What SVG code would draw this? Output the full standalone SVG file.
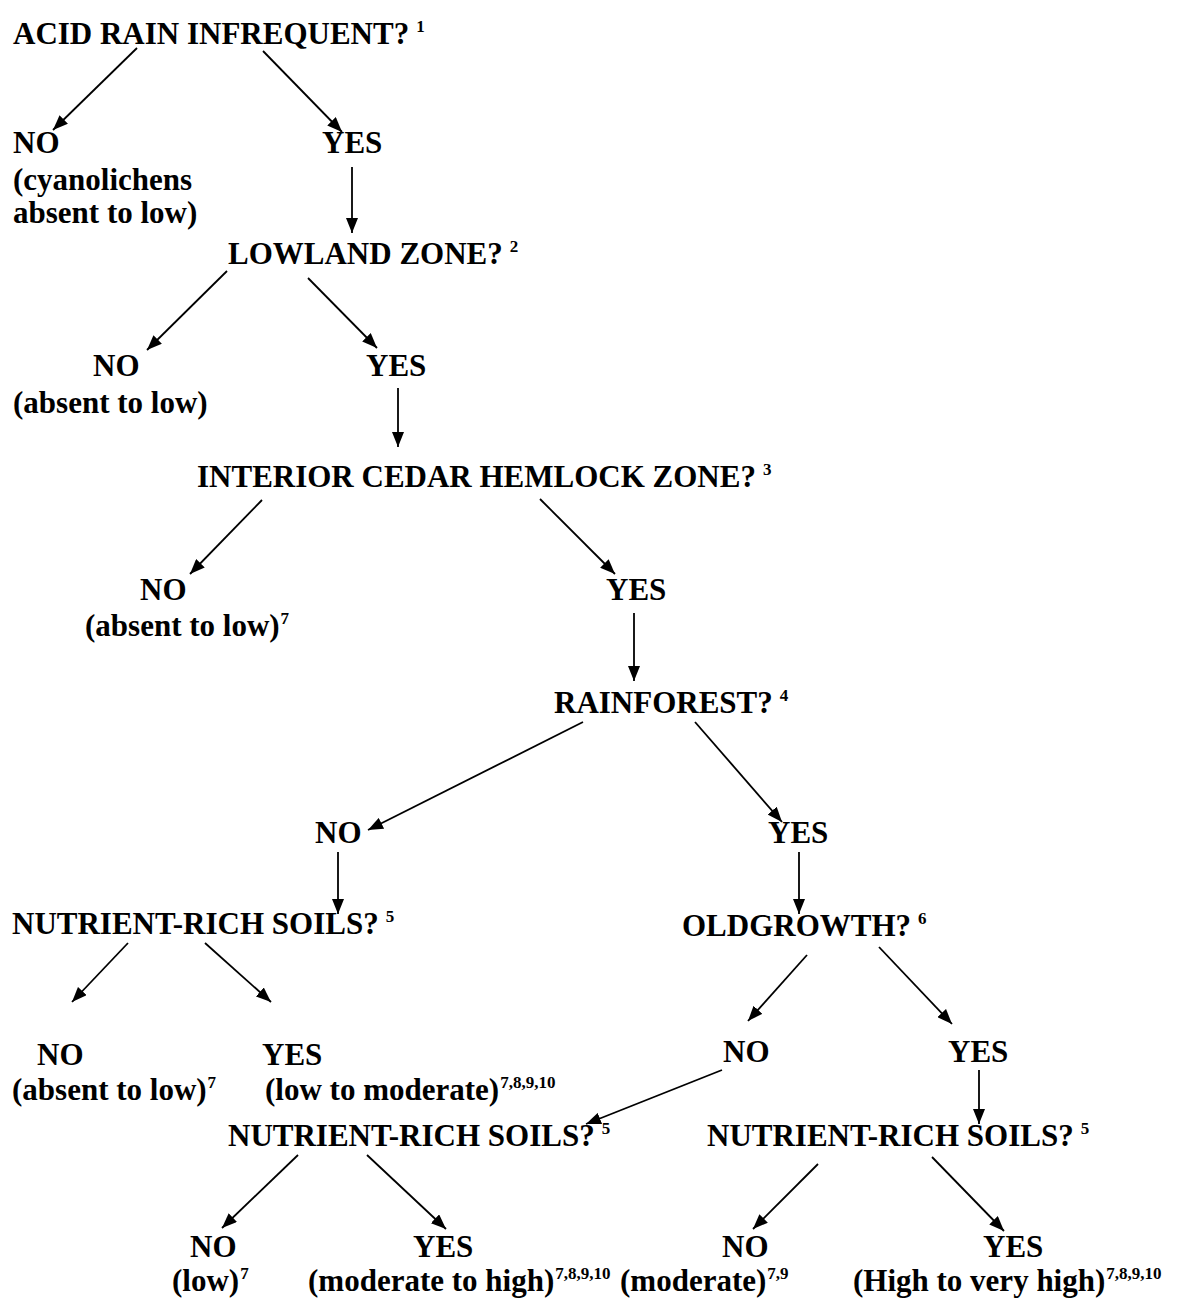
<svg xmlns="http://www.w3.org/2000/svg" width="1179" height="1301" viewBox="0 0 1179 1301">
<defs>
<marker id="ah" markerUnits="userSpaceOnUse" markerWidth="16" markerHeight="12" refX="15" refY="6" orient="auto">
<path d="M0,0 L15,6 L0,12 z" fill="#000"/>
</marker>
<style>
text{font-family:"Liberation Serif","Times New Roman",serif;font-weight:bold;font-size:31px;fill:#000}
.s{font-size:17px}
.c line{stroke:#000;stroke-width:1.8;marker-end:url(#ah)}
</style>
</defs>
<rect width="1179" height="1301" fill="#fff"/>
<g id="n-acid"><text x="13" y="44">ACID RAIN INFREQUENT?<tspan class="s" dx="7" dy="-12">1</tspan></text></g>
<g id="n-no1"><text x="13" y="153">NO</text><text x="13" y="190">(cyanolichens</text><text x="13" y="223">absent to low)</text></g>
<g id="n-yes1"><text x="322" y="153">YES</text></g>
<g id="n-lowland"><text x="228" y="264">LOWLAND ZONE?<tspan class="s" dx="7" dy="-12">2</tspan></text></g>
<g id="n-no2"><text x="93" y="376">NO</text><text x="13" y="413">(absent to low)</text></g>
<g id="n-yes2"><text x="366" y="376">YES</text></g>
<g id="n-ich"><text x="197" y="487">INTERIOR CEDAR HEMLOCK ZONE?<tspan class="s" dx="7" dy="-12">3</tspan></text></g>
<g id="n-no3"><text x="140" y="600">NO</text><text x="85" y="636">(absent to low)<tspan class="s" dx="1" dy="-12">7</tspan></text></g>
<g id="n-yes3"><text x="606" y="600">YES</text></g>
<g id="n-rain"><text x="554" y="713">RAINFOREST?<tspan class="s" dx="7" dy="-12">4</tspan></text></g>
<g id="n-no4"><text x="315" y="843">NO</text></g>
<g id="n-yes4"><text x="768" y="843">YES</text></g>
<g id="n-nut1"><text x="12" y="934">NUTRIENT-RICH SOILS?<tspan class="s" dx="7" dy="-12">5</tspan></text></g>
<g id="n-old"><text x="682" y="936">OLDGROWTH?<tspan class="s" dx="7" dy="-12">6</tspan></text></g>
<g id="n-no5"><text x="37" y="1065">NO</text><text x="12" y="1100">(absent to low)<tspan class="s" dx="1" dy="-12">7</tspan></text></g>
<g id="n-yes5"><text x="262" y="1065">YES</text><text x="265" y="1100">(low to moderate)<tspan class="s" dx="1" dy="-12">7,8,9,10</tspan></text></g>
<g id="n-no6"><text x="723" y="1062">NO</text></g>
<g id="n-yes6"><text x="948" y="1062">YES</text></g>
<g id="n-nut2"><text x="228" y="1146">NUTRIENT-RICH SOILS?<tspan class="s" dx="7" dy="-12">5</tspan></text></g>
<g id="n-nut3"><text x="707" y="1146">NUTRIENT-RICH SOILS?<tspan class="s" dx="7" dy="-12">5</tspan></text></g>
<g id="n-no7"><text x="190" y="1257">NO</text><text x="172" y="1291">(low)<tspan class="s" dx="1" dy="-12">7</tspan></text></g>
<g id="n-yes7"><text x="413" y="1257">YES</text><text x="308" y="1291">(moderate to high)<tspan class="s" dx="1" dy="-12">7,8,9,10</tspan></text></g>
<g id="n-no8"><text x="722" y="1257">NO</text><text x="620" y="1291">(moderate)<tspan class="s" dx="1" dy="-12">7,9</tspan></text></g>
<g id="n-yes8"><text x="983" y="1257">YES</text><text x="853" y="1291">(High to very high)<tspan class="s" dx="1" dy="-12">7,8,9,10</tspan></text></g>
<g id="connectors" class="c">
<line x1="137" y1="48" x2="53" y2="130"/>
<line x1="263" y1="51" x2="342" y2="132"/>
<line x1="352" y1="167" x2="352" y2="233"/>
<line x1="227" y1="271" x2="147" y2="350"/>
<line x1="308" y1="278" x2="377" y2="348"/>
<line x1="398" y1="388" x2="398" y2="447"/>
<line x1="262" y1="500" x2="190" y2="574"/>
<line x1="540" y1="499" x2="615" y2="574"/>
<line x1="634" y1="613" x2="634" y2="681"/>
<line x1="583" y1="722" x2="368" y2="830"/>
<line x1="695" y1="722" x2="782" y2="822"/>
<line x1="338" y1="852" x2="338" y2="914"/>
<line x1="799" y1="852" x2="799" y2="914"/>
<line x1="128" y1="943" x2="72" y2="1002"/>
<line x1="205" y1="943" x2="271" y2="1002"/>
<line x1="807" y1="955" x2="748" y2="1021"/>
<line x1="879" y1="947" x2="952" y2="1024"/>
<line x1="722" y1="1070" x2="586" y2="1124"/>
<line x1="979" y1="1070" x2="979" y2="1124"/>
<line x1="298" y1="1155" x2="222" y2="1228"/>
<line x1="367" y1="1155" x2="446" y2="1229"/>
<line x1="818" y1="1164" x2="753" y2="1229"/>
<line x1="932" y1="1157" x2="1004" y2="1231"/>
</g>
</svg>
